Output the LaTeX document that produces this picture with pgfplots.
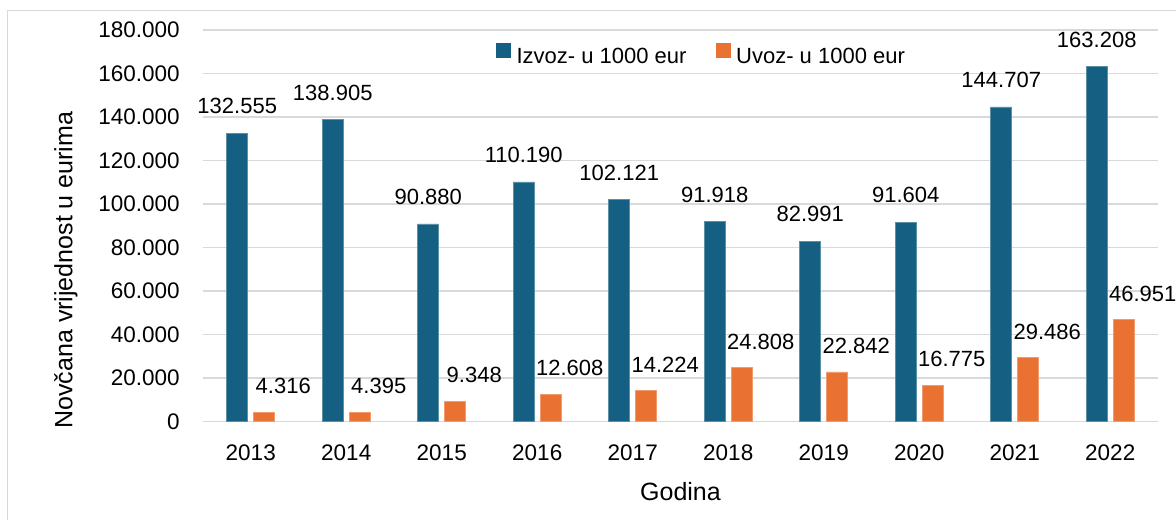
\documentclass[border=0pt]{standalone}
\usepackage{pgfplots}
\pgfplotsset{compat=1.18}
\usepackage{fontspec}
\setmainfont{Liberation Sans}
\definecolor{izv}{HTML}{156082}
\definecolor{uvz}{HTML}{E97132}
\definecolor{gridc}{HTML}{D9D9D9}
\begin{document}
\begin{tikzpicture}
\begin{axis}[
  scale only axis,
  width=477.5pt, height=195.85pt,
  at={(0,0)}, anchor=south west,
  ybar,
  bar width=10.5pt,
  xmin=-0.5, xmax=9.5,
  ymin=0, ymax=180000,
  xtick=data,
  xticklabels={2013,2014,2015,2016,2017,2018,2019,2020,2021,2022},
  ytick={0,20000,40000,60000,80000,100000,120000,140000,160000,180000},
  scaled y ticks=false,
  /pgf/number format/assume math mode=true,
  yticklabel style={/pgf/number format/fixed, /pgf/number format/precision=0, /pgf/number format/1000 sep={.},
    anchor=east, inner sep=0pt, xshift=-11.5pt, font=\fontsize{11.25}{13}\selectfont},
  xticklabel style={anchor=base, inner sep=0pt, yshift=-19.15pt, font=\fontsize{11.25}{13}\selectfont},
  major tick length=0pt,
  axis line style={draw=none},
  ymajorgrids,
  grid style={gridc, line width=0.75pt},
  clip=false,
  xlabel={Godina},
  ylabel={Novčana vrijednost u eurima},
  every axis x label/.style={at={(axis description cs:0.5,0)}, anchor=base, yshift=-39.15pt, inner sep=0pt, font=\fontsize{12.5}{14}\selectfont},
  every axis y label/.style={at={(axis description cs:-0.1435,0.387)}, rotate=90, anchor=center, inner sep=0pt, font=\fontsize{12.5}{14}\selectfont},
  legend columns=2,
  legend style={at={(axis description cs:0.3068,0.9362)}, anchor=west, draw=none, fill=white,
    inner sep=0pt, outer sep=0pt,
    nodes={inner sep=0pt, font=\fontsize{11}{13}\selectfont},
    /tikz/every odd column/.append style={column sep=3pt},
    /tikz/every even column/.append style={column sep=14.5pt}},
  nodes near coords={\pgfmathprintnumber[fixed,precision=0,1000 sep={.}]{\pgfplotspointmeta}},
  every node near coord/.append style={font=\fontsize{11}{13}\selectfont, inner sep=0pt, anchor=center, text=black},
]
\addplot[fill=izv, draw=izv!70!white, line width=0.3pt, bar shift=-6.75pt,
  every node near coord/.append style={yshift=13.5pt},
  legend image code/.code={\fill[izv] (0pt,0pt) rectangle (7pt,7pt);}]
  coordinates {(0,132555) (1,138905) (2,90880) (3,110190) (4,102121) (5,91918) (6,82991) (7,91604) (8,144707) (9,163208)};
\addplot[fill=uvz, draw=uvz!70!white, line width=0.3pt, bar shift=6.75pt,
  every node near coord/.append style={yshift=13pt, xshift=9.5pt},
  legend image code/.code={\fill[uvz] (0pt,0pt) rectangle (7pt,7pt);}]
  coordinates {(0,4316) (1,4395) (2,9348) (3,12608) (4,14224) (5,24808) (6,22842) (7,16775) (8,29486) (9,46951)};
\legend{Izvoz- u 1000 eur, Uvoz- u 1000 eur}
\end{axis}
\draw[gridc, line width=0.5pt] (-97.5pt,-60pt) rectangle (500pt,205.35pt);
\pgfresetboundingbox
\path[use as bounding box] (-101.5pt,-48.65pt) rectangle (486.5pt,210.85pt);
\end{tikzpicture}
\end{document}
